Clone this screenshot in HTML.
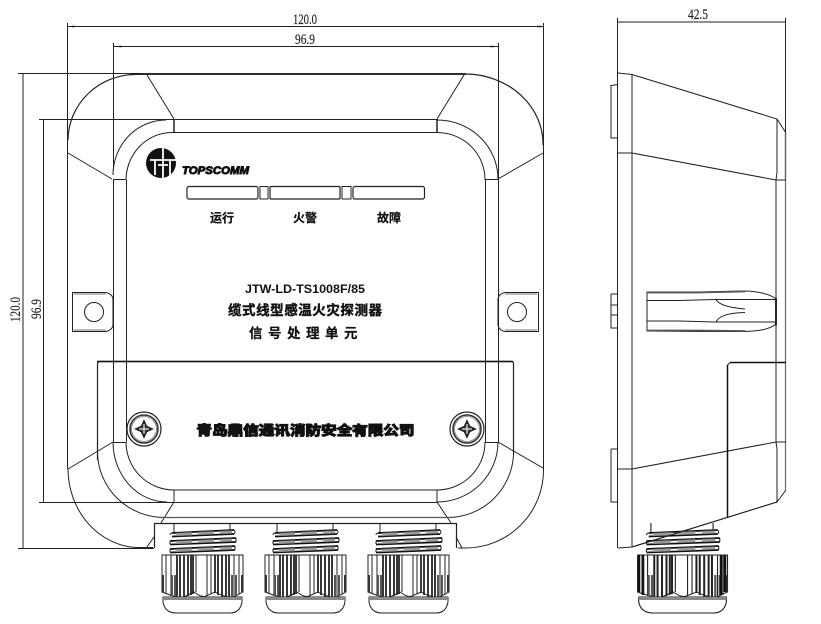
<!DOCTYPE html>
<html>
<head>
<meta charset="utf-8">
<style>
html,body{margin:0;padding:0;background:#fff;width:821px;height:624px;overflow:hidden}
svg{display:block}
.s{font-family:"Liberation Serif","Noto Serif CJK SC",serif;fill:#222;font-size:14.500px;stroke:#222;stroke-width:0.150}
.c{font-family:"Liberation Sans","Noto Sans CJK SC",sans-serif;fill:#111;font-weight:700;text-anchor:middle}
</style>
</head>
<body>
<svg width="821" height="624" viewBox="0 0 821 624" xmlns="http://www.w3.org/2000/svg">
<defs>
<g id="gland">
  <!-- thread -->
  <path d="M-28 523V532M28 523V532" fill="none" stroke="#222" stroke-width="1"/>
  <g fill="none" stroke="#111" stroke-width="1.800">
    <path d="M-30 533L32 530M-30 536.500L32 534"/>
    <path d="M-32 541L34 538M-32 544.500L34 542"/>
    <path d="M-32 549L33 546M-32 552.500L33 550"/>
  </g>
  <g fill="none" stroke="#999" stroke-width="3" stroke-dasharray="16 6">
    <path d="M-26 534.500L30 532"/>
    <path d="M-26 542.500L30 540"/>
    <path d="M-26 550.500L30 548"/>
  </g>
  <g fill="none" stroke="#222" stroke-width="1">
    <path d="M-32 535A2 2 0 0 1-30 533M32 530A2.500 2.500 0 0 1 32 534"/>
    <path d="M-32 541V544M34 538V542M-32 549V552M33 546V550"/>
  </g>
  <!-- body -->
  <path d="M-40 555H41V592L30 598Q20 596 13 592L4 596Q0 598-8 592L-20 598Q-30 596-40 592Z" fill="#fff" stroke="#222" stroke-width="1"/>
  <g stroke="#222" stroke-width="1" fill="none">
    <path d="M-36 555V594M-31 555V596M-6 555V592M5 555V595M9 555V594M32 555V597M37 555V594"/>
  </g>
  <g stroke="#222" fill="none">
    <path d="M-25 555V597M-22 555V597M-18 555V597M-14 555V596M-11 555V595M-9 555V594" stroke-width="1.800"/>
    <path d="M13 555V593M16 555V595M20 555V597M24 555V597M27 555V597" stroke-width="1.800"/>
  </g>
  <path d="M-39 575V592M40 575V592" stroke="#333" stroke-width="2"/>
  <path d="M-30 575V596M-27 575V597M30 575V597M34 575V596" stroke="#555" stroke-width="2"/>
  <!-- dome -->
  <path d="M-39 597H40V602Q38 613 28 613H-26Q-37 613-39 602Z" fill="#fff" stroke="#222" stroke-width="1"/>
  <path d="M-39 598.500H40" stroke="#888" stroke-width="3"/>
</g>
<g id="screw">
  <circle r="17" fill="#fff" stroke="#222" stroke-width="1.200"/>
  <circle r="14" fill="none" stroke="#333" stroke-width="1.600"/>
  <circle r="12.500" fill="none" stroke="#777" stroke-width="0.800"/>
  <path d="M-8 0L-2.500-2.500L0-8L2.500-2.500L8 0L2.500 2.500L0 8L-2.500 2.500Z" fill="#444" stroke="#222" stroke-width="1.600"/>
  <path d="M-5 0H5M0-5V5" stroke="#fff" stroke-width="1"/>
</g>
</defs>

<g fill="none" stroke="#222" stroke-width="1">
  <!-- dimensions front -->
  <path d="M67.500 23V170M543.500 23V150M113.500 43V170M498.500 43V180"/>
  <path d="M67 26.500H543M113 46.500H498"/>
  <path d="M18 73.500H140M39 119.500H174M23 74V548M43.500 120V502M18 548.500H154M39 502.500H437"/>
  <path d="M72 26.500H75M537 26.500H541M119 46.500H122M490 46.500H494" stroke-width="1.500"/>

  <!-- outer body -->
  <path d="M68 140A68 66 0 0 1 135 74.500" stroke-width="1.200"/>
  <path d="M135 74H466" stroke="#111" stroke-width="1.800"/>
  <path d="M466 74A78 70 0 0 1 543 145" stroke-width="1.200"/>
  <path d="M67.500 140V469M68 469A72 79 0 0 0 136 547.500H153"/>
  <path d="M543.500 145V470A78 78 0 0 1 465 548L458 548" />
  <path d="M147 75L174 119M68 153L112 179M464 75L437 119M543 153L498 179M68 469L113 442M543 468L498 442"/>

  <!-- inner frame -->
  <path d="M113 175A53 55 0 0 1 166 120M174 119.500H437M437 120A61 59 0 0 1 498 179"/>
  <path d="M126 180A46 48 0 0 1 172 132.500H437M437 132.500A48 47 0 0 1 485 180"/>
  <path d="M174 119V132M437 119V132" stroke-width="1.500"/>
  <path d="M113 179.500H126M485 179.500H498M113 442.500H126M485 442.500H498"/>
  <path d="M113.500 180V442M126.500 180V442M485.500 180V442M498.500 180V442"/>
  <path d="M113 442A54 60 0 0 0 167 502M126 442A48 48 0 0 0 174 490H437A48 48 0 0 0 485 442M437 502A61 60 0 0 0 498 442"/>
  <path d="M174 490V502M437 490V502"/>

  <!-- ears -->
  <path d="M72.500 292.500H106Q113 294 113 300V324Q113 330 106 331.500H72.500Z" stroke="#222"/>
  <path d="M74 294H106M74 330H106" stroke="#777"/>
  <circle cx="94" cy="312" r="9.500"/>
  <path d="M538.500 292.500H505Q498 294 498 300V324Q498 330 505 331.500H538.500Z" stroke="#222"/>
  <path d="M505 294H537M505 330H537" stroke="#777"/>
  <circle cx="517" cy="312" r="9.500"/>

  <!-- cover -->
  <path d="M97.500 460V364.500Q97.500 361.500 100 361.500H512Q513.500 361.500 513.500 364V455" stroke-width="1.200"/>
  <path d="M97 361.500H513" stroke="#111" stroke-width="1.500"/>
  <path d="M97.500 452A67 66 0 0 0 165 517.500H447A66 66 0 0 0 513.500 455"/>
  <!-- lug -->
  <path d="M174 502L161 523M437 502L451 523M147 547L154 537M456 537L462 548"/>
  <path d="M154 523.500H457M154.500 523V548M456.500 523V548" stroke-width="1.200"/>
  <path d="M160 517.500H450" stroke="#555" stroke-width="1.200"/>
</g>

<!-- LED bars -->
<g fill="#fff" stroke="#222" stroke-width="1.200">
  <rect x="187" y="186.500" width="71" height="12.500" rx="2"/>
  <rect x="270" y="186.500" width="70" height="12.500" rx="1"/>
  <rect x="353" y="186.500" width="71.500" height="12.500" rx="2"/>
  <path d="M260 186.500H268V199H260ZM342 186.500H351V199H342Z" stroke-width="1"/>
</g>

<!-- logo -->
<circle cx="161" cy="163" r="15" fill="#111"/>
<g stroke="#fff" stroke-width="1.800" fill="none">
  <path d="M150 160H176M163 148V178M155 160V175M170 160V176M158 165H168"/>
</g>
<text x="182" y="174" font-family="Liberation Sans,sans-serif" font-size="11" font-weight="700" font-style="italic" fill="#111" stroke="#111" stroke-width="0.900" textLength="67" lengthAdjust="spacingAndGlyphs">TOPSCOMM</text>

<!-- front labels -->
<text class="c" x="222" y="222" font-size="12" stroke="#111" stroke-width="0.200">运行</text>
<text class="c" x="305" y="222" font-size="12" stroke="#111" stroke-width="0.200">火警</text>
<text class="c" x="389" y="222" font-size="12" stroke="#111" stroke-width="0.200">故障</text>
<text class="c" x="305" y="293" font-size="12" textLength="120" lengthAdjust="spacingAndGlyphs">JTW-LD-TS1008F/85</text>
<text class="c" x="305" y="315" font-size="13.500" stroke="#111" stroke-width="0.400" textLength="154" lengthAdjust="spacing">缆式线型感温火灾探测器</text>
<text class="c" x="306" y="338" font-size="13.500" letter-spacing="5.500" stroke="#111" stroke-width="0.200">信号处理单元</text>
<text class="c" transform="translate(305.500,435) scale(1,0.85)" x="0" y="0" font-size="15.500" stroke="#111" stroke-width="1.400" textLength="218" lengthAdjust="spacing">青岛鼎信通讯消防安全有限公司</text>

<use href="#screw" x="144" y="429"/>
<use href="#screw" x="467" y="429"/>

<!-- glands -->
<use href="#gland" x="202"/>
<use href="#gland" x="305"/>
<use href="#gland" x="408"/>

<!-- side view -->
<g fill="none" stroke="#222" stroke-width="1">
  <path d="M617.500 18V548M632 75V547M785.500 18V133" stroke-width="1"/>
  <path d="M785.500 133V180" stroke="#666" stroke-width="1.500"/>
  <path d="M785.500 180V490" stroke="#666" stroke-width="1.200"/>
  <path d="M618 22H785" stroke-width="1"/>
  <path d="M618 73L632 74.500L777 119L786 133"/>
  <path d="M777 119V172L776 180V442L777 449V502L786 490"/>
  <path d="M618 153H632L776 180H786"/>
  <path d="M618 469H632L776 442H786"/>
  <path d="M618 548L632 547L777 502"/>
  <path d="M611 85.500L618 84.500M611 85V138H618M611 294H618M611 294V328H618M611 305H618M611 315H618M611 449H618M611 449V502H618"/>
  <path d="M730 362.500H786" stroke="#111" stroke-width="1.500"/>
  <path d="M727.500 365V518" stroke="#111" stroke-width="1.500"/>
  <path d="M727.500 365L730 362.500"/>
  <!-- side ear -->
  <path d="M647 292H697L745 291Q768 292 776 299V324Q768 331 745 331.500H697L647 331Z" fill="#fff"/>
  <path d="M647 292.500H697L745 291.500" stroke="#555" stroke-width="1.800"/>
  <path d="M647 330.500H697L745 331" stroke="#555" stroke-width="1.800"/>
  <path d="M647 300.500H679L715 299.500H776M647 321H679L715 322H776"/>
  <path d="M716 299.500Q720 307 745 309M745 312.500Q720 313 716 322"/>
  <path d="M776 298V325" stroke="#111" stroke-width="1.800"/>
</g>
<use href="#gland" transform="translate(682,0) scale(1.110,1)"/>
<path d="M639 555V592M643 555V595M721 555V595M725 555V592" stroke="#111" stroke-width="2.500" fill="none"/>
<path d="M632 547L777 502" fill="none" stroke="#222" stroke-width="1"/>

<!-- dim text -->
<text class="s" x="293" y="24" textLength="24" lengthAdjust="spacingAndGlyphs">120.0</text>
<text class="s" x="295" y="44" textLength="20" lengthAdjust="spacingAndGlyphs">96.9</text>
<text class="s" x="688" y="19" textLength="20" lengthAdjust="spacingAndGlyphs">42.5</text>
<text class="s" transform="translate(20,322) rotate(-90)" textLength="25" lengthAdjust="spacingAndGlyphs">120.0</text>
<text class="s" transform="translate(41,319) rotate(-90)" textLength="20" lengthAdjust="spacingAndGlyphs">96.9</text>
</svg>
</body>
</html>
